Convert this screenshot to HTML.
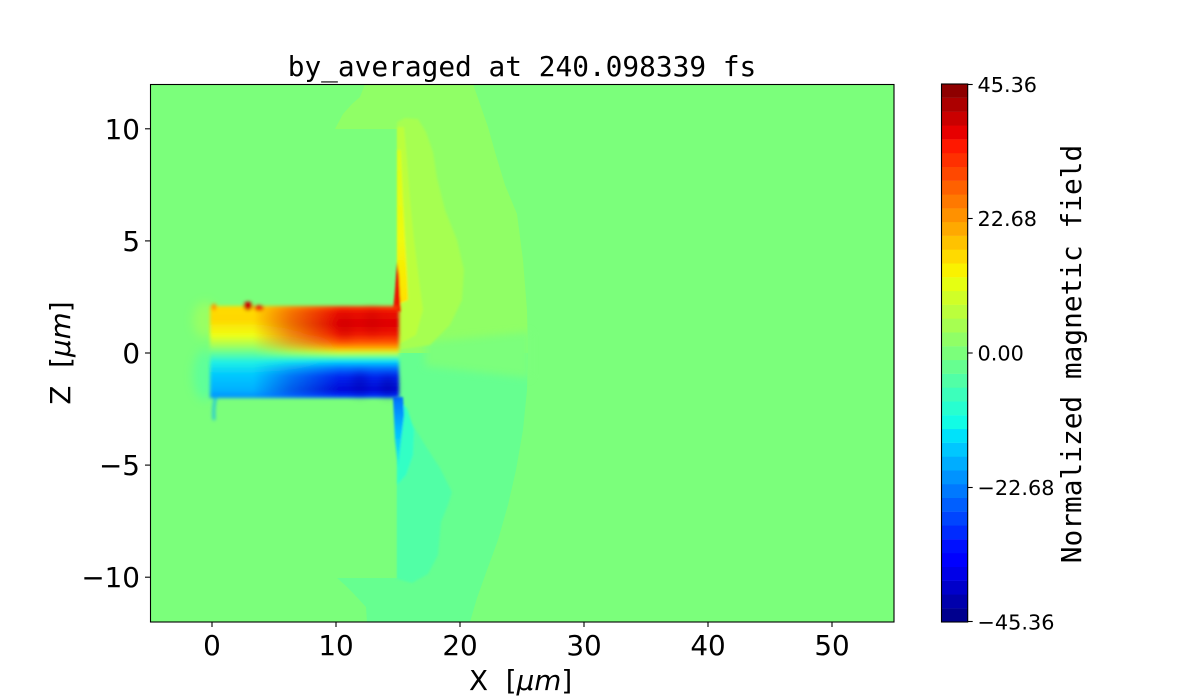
<!DOCTYPE html>
<html>
<head>
<meta charset="utf-8">
<style>
  html,body{margin:0;padding:0;background:#fff;}
  svg{display:block;}
  .tk{font-family:"DejaVu Sans","Liberation Sans",sans-serif;font-size:27.8px;fill:#000;}
  .cb{font-family:"DejaVu Sans","Liberation Sans",sans-serif;font-size:20.8px;fill:#000;}
  .mono{font-family:"DejaVu Sans Mono","Liberation Mono",monospace;font-size:27.8px;fill:#000;white-space:pre;}
  .lab{font-family:"DejaVu Sans","Liberation Sans",sans-serif;font-size:27.8px;fill:#000;white-space:pre;}
</style>
</head>
<body>
<svg width="1200" height="700" viewBox="0 0 1200 700" xmlns="http://www.w3.org/2000/svg">
<defs>
  <clipPath id="clip"><rect x="150" y="84" width="744" height="538"/></clipPath>
  <filter id="b2" x="-20%" y="-20%" width="140%" height="140%"><feGaussianBlur stdDeviation="1.8"/></filter>
  <filter id="b1" x="-20%" y="-20%" width="140%" height="140%"><feGaussianBlur stdDeviation="1"/></filter>
  <filter id="b3" x="-20%" y="-50%" width="140%" height="200%"><feGaussianBlur stdDeviation="4"/></filter>
  <filter id="b5" x="-50%" y="-50%" width="200%" height="200%"><feGaussianBlur stdDeviation="5"/></filter>
  <linearGradient id="gI" gradientUnits="userSpaceOnUse" x1="0" y1="306" x2="0" y2="398">
    <stop offset="0" stop-color="rgb(255,70,0)"/>
    <stop offset="0.065" stop-color="rgb(235,15,0)"/>
    <stop offset="0.2" stop-color="rgb(222,0,0)"/>
    <stop offset="0.31" stop-color="rgb(240,25,0)"/>
    <stop offset="0.4" stop-color="rgb(255,90,0)"/>
    <stop offset="0.46" stop-color="rgb(255,175,0)"/>
    <stop offset="0.51" stop-color="rgb(200,255,50)"/>
    <stop offset="0.56" stop-color="rgb(80,255,170)"/>
    <stop offset="0.605" stop-color="rgb(0,215,255)"/>
    <stop offset="0.67" stop-color="rgb(0,120,255)"/>
    <stop offset="0.76" stop-color="rgb(0,40,240)"/>
    <stop offset="0.915" stop-color="rgb(0,10,215)"/>
    <stop offset="0.98" stop-color="rgb(0,45,255)"/>
    <stop offset="1" stop-color="rgb(0,110,255)"/>
  </linearGradient>
  <linearGradient id="gW" gradientUnits="userSpaceOnUse" x1="0" y1="306" x2="0" y2="398">
    <stop offset="0" stop-color="rgb(255,220,0)"/>
    <stop offset="0.15" stop-color="rgb(255,215,0)"/>
    <stop offset="0.315" stop-color="rgb(240,255,20)"/>
    <stop offset="0.425" stop-color="rgb(170,255,85)"/>
    <stop offset="0.51" stop-color="rgb(100,255,150)"/>
    <stop offset="0.61" stop-color="rgb(30,240,230)"/>
    <stop offset="0.75" stop-color="rgb(0,200,255)"/>
    <stop offset="0.92" stop-color="rgb(0,175,255)"/>
    <stop offset="1" stop-color="rgb(0,140,255)"/>
  </linearGradient>
  <linearGradient id="hG" gradientUnits="userSpaceOnUse" x1="212" y1="0" x2="399" y2="0">
    <stop offset="0" stop-color="#fff"/>
    <stop offset="0.22" stop-color="#fff"/>
    <stop offset="0.42" stop-color="#808080"/>
    <stop offset="0.68" stop-color="#000"/>
    <stop offset="1" stop-color="#000"/>
  </linearGradient>
  <mask id="mW" maskUnits="userSpaceOnUse" x="150" y="84" width="744" height="538">
    <rect x="150" y="84" width="744" height="538" fill="url(#hG)"/>
  </mask>
  <linearGradient id="gSpikeB" gradientUnits="userSpaceOnUse" x1="0" y1="397" x2="0" y2="465">
    <stop offset="0" stop-color="rgb(0,110,255)"/>
    <stop offset="0.5" stop-color="rgb(0,190,255)"/>
    <stop offset="1" stop-color="rgb(30,245,220)"/>
  </linearGradient>
  <linearGradient id="gSpikeY" gradientUnits="userSpaceOnUse" x1="0" y1="150" x2="0" y2="300">
    <stop offset="0" stop-color="rgb(215,255,30)"/>
    <stop offset="0.6" stop-color="rgb(240,250,10)"/>
    <stop offset="1" stop-color="rgb(255,225,0)"/>
  </linearGradient>
</defs>

<!-- ===== heatmap ===== -->
<g clip-path="url(#clip)">
  <rect x="150" y="84" width="744" height="538" fill="rgb(123,255,123)"/>

  <!-- upper band20 region -->
  <polygon fill="rgb(144,255,102)" points="365,84 473,84 480,104 488,127 495,152 505,185 517,214 523,260 527,310 528,353 397,353 397,129 335,129 343,114 352,104 360,97"/>
  <!-- lower band18 region -->
  <polygon fill="rgb(102,255,144)" points="397,353 528,353 527,390 523,430 516,470 508,505 498,540 487,570 477,598 470,622 367,622 366,607 353,593 345,585 337,578 397,578"/>
  <!-- neutral transition around the exit line -->
  <polygon fill="rgb(123,255,123)" points="425,342 530,332 530,378 425,366" filter="url(#b3)"/>

  <g filter="url(#b1)">
    <!-- band 21 upper -->
    <polygon fill="rgb(166,255,81)" points="397,122 405,118 418,119 426,132 433,152 437,178 445,210 457,240 464,270 462,300 450,325 430,345 397,350"/>
    <!-- band 22 strip -->
    <polygon fill="rgb(187,255,60)" points="397,127 404,127 407,160 410,200 414,240 419,280 423,310 416,335 397,345"/>
    <!-- yellow strip next to target -->
    <polygon fill="url(#gSpikeY)" points="397,150 401,150 403,200 405,240 407,275 408,300 397,305"/>
    <!-- band 17 lower -->
    <polygon fill="rgb(81,255,166)" points="397,398 410,420 425,445 440,468 452,492 448,505 441,522 438,555 428,574 412,583 397,579"/>
    <!-- band 15/16 near target -->
    <polygon fill="rgb(50,255,197)" points="397,398 407,408 414,430 413,455 406,475 397,485"/>
    <!-- blue spike -->
    <polygon fill="url(#gSpikeB)" points="393,397 403,397 404,415 401,440 398,468 395,440"/>
    <!-- red spike -->
    <polygon fill="rgb(235,20,0)" points="397,262 399,275 400,295 401,312 393,312 395,290"/>
  </g>

  <!-- faint halos left of channel -->
  <ellipse cx="205" cy="320" rx="12" ry="18" fill="rgb(190,255,70)" opacity="0.45" filter="url(#b5)"/>
  <ellipse cx="205" cy="375" rx="12" ry="25" fill="rgb(60,255,190)" opacity="0.45" filter="url(#b5)"/>

  <!-- channel -->
  <g filter="url(#b2)">
    <rect x="212" y="306" width="187" height="92" fill="url(#gI)"/>
    <rect x="210" y="306" width="189" height="92" fill="url(#gW)" mask="url(#mW)"/>
    <!-- blobs -->
    <circle cx="248" cy="306" r="4.5" fill="rgb(205,0,0)"/>
    <ellipse cx="259" cy="308" rx="5" ry="3" fill="rgb(240,45,0)"/>
    <ellipse cx="214" cy="307" rx="2.5" ry="3.5" fill="rgb(255,150,0)"/>
    <path d="M216,397 Q213,405 214,420" stroke="rgb(0,175,255)" stroke-width="2" fill="none"/>
  </g>
  <!-- soft texture -->
  <g filter="url(#b5)" opacity="0.45">
    <ellipse cx="345" cy="326" rx="7" ry="13" fill="rgb(200,0,0)"/>
    <ellipse cx="372" cy="322" rx="7" ry="12" fill="rgb(200,0,0)"/>
    <ellipse cx="360" cy="384" rx="8" ry="11" fill="rgb(0,0,170)"/>
    <ellipse cx="388" cy="386" rx="7" ry="10" fill="rgb(0,0,150)"/>
  </g>
</g>

<!-- axes frame -->
<rect x="150.5" y="84.5" width="743.5" height="537.5" fill="none" stroke="#000" stroke-width="1.1"/>

<!-- ticks -->
<g stroke="#000" stroke-width="1.1">
  <line x1="145" y1="128.8" x2="150" y2="128.8"/>
  <line x1="145" y1="240.9" x2="150" y2="240.9"/>
  <line x1="145" y1="353" x2="150" y2="353"/>
  <line x1="145" y1="465.1" x2="150" y2="465.1"/>
  <line x1="145" y1="577.2" x2="150" y2="577.2"/>
  <line x1="212" y1="622" x2="212" y2="627"/>
  <line x1="336" y1="622" x2="336" y2="627"/>
  <line x1="460" y1="622" x2="460" y2="627"/>
  <line x1="584" y1="622" x2="584" y2="627"/>
  <line x1="708" y1="622" x2="708" y2="627"/>
  <line x1="832" y1="622" x2="832" y2="627"/>
</g>
<g class="tk" text-anchor="end">
  <text x="140" y="139">10</text>
  <text x="140" y="251">5</text>
  <text x="140" y="363">0</text>
  <text x="140" y="475">−5</text>
  <text x="140" y="587">−10</text>
</g>
<g class="tk" text-anchor="middle">
  <text x="212" y="655">0</text>
  <text x="336" y="655">10</text>
  <text x="460" y="655">20</text>
  <text x="584" y="655">30</text>
  <text x="708" y="655">40</text>
  <text x="832" y="655">50</text>
</g>

<!-- axis labels -->
<text class="lab" x="469" y="690">X  [<tspan font-style="italic">μm</tspan>]</text>
<text class="lab" transform="translate(70,353) rotate(-90)" text-anchor="middle">Z  [<tspan font-style="italic">μm</tspan>]</text>

<!-- title -->
<text class="mono" x="522" y="76" text-anchor="middle">by_averaged at 240.098339 fs</text>

<!-- colorbar -->
<g>
  <rect x="941.5" y="608.2" width="26" height="14" fill="rgb(0,0,142)"/>
  <rect x="941.5" y="594.4" width="26" height="14" fill="rgb(0,0,172)"/>
  <rect x="941.5" y="580.6" width="26" height="14" fill="rgb(0,0,202)"/>
  <rect x="941.5" y="566.8" width="26" height="14" fill="rgb(0,0,232)"/>
  <rect x="941.5" y="553.0" width="26" height="14" fill="rgb(0,0,255)"/>
  <rect x="941.5" y="539.2" width="26" height="14" fill="rgb(0,16,255)"/>
  <rect x="941.5" y="525.4" width="26" height="14" fill="rgb(0,43,255)"/>
  <rect x="941.5" y="511.6" width="26" height="14" fill="rgb(0,69,255)"/>
  <rect x="941.5" y="497.8" width="26" height="14" fill="rgb(0,95,255)"/>
  <rect x="941.5" y="484.0" width="26" height="14" fill="rgb(0,121,255)"/>
  <rect x="941.5" y="470.3" width="26" height="14" fill="rgb(0,147,255)"/>
  <rect x="941.5" y="456.5" width="26" height="14" fill="rgb(0,173,255)"/>
  <rect x="941.5" y="442.7" width="26" height="14" fill="rgb(0,199,255)"/>
  <rect x="941.5" y="428.9" width="26" height="14" fill="rgb(0,226,250)"/>
  <rect x="941.5" y="415.1" width="26" height="14" fill="rgb(18,252,229)"/>
  <rect x="941.5" y="401.3" width="26" height="14" fill="rgb(39,255,208)"/>
  <rect x="941.5" y="387.5" width="26" height="14" fill="rgb(60,255,187)"/>
  <rect x="941.5" y="373.7" width="26" height="14" fill="rgb(81,255,166)"/>
  <rect x="941.5" y="359.9" width="26" height="14" fill="rgb(102,255,144)"/>
  <rect x="941.5" y="346.1" width="26" height="14" fill="rgb(123,255,123)"/>
  <rect x="941.5" y="332.3" width="26" height="14" fill="rgb(144,255,102)"/>
  <rect x="941.5" y="318.5" width="26" height="14" fill="rgb(166,255,81)"/>
  <rect x="941.5" y="304.7" width="26" height="14" fill="rgb(187,255,60)"/>
  <rect x="941.5" y="290.9" width="26" height="14" fill="rgb(208,255,39)"/>
  <rect x="941.5" y="277.1" width="26" height="14" fill="rgb(229,255,18)"/>
  <rect x="941.5" y="263.3" width="26" height="14" fill="rgb(250,242,0)"/>
  <rect x="941.5" y="249.5" width="26" height="14" fill="rgb(255,218,0)"/>
  <rect x="941.5" y="235.7" width="26" height="14" fill="rgb(255,194,0)"/>
  <rect x="941.5" y="221.9" width="26" height="14" fill="rgb(255,169,0)"/>
  <rect x="941.5" y="208.1" width="26" height="14" fill="rgb(255,145,0)"/>
  <rect x="941.5" y="194.4" width="26" height="14" fill="rgb(255,121,0)"/>
  <rect x="941.5" y="180.6" width="26" height="14" fill="rgb(255,97,0)"/>
  <rect x="941.5" y="166.8" width="26" height="14" fill="rgb(255,72,0)"/>
  <rect x="941.5" y="153.0" width="26" height="14" fill="rgb(255,48,0)"/>
  <rect x="941.5" y="139.2" width="26" height="14" fill="rgb(255,24,0)"/>
  <rect x="941.5" y="125.4" width="26" height="14" fill="rgb(231,0,0)"/>
  <rect x="941.5" y="111.6" width="26" height="14" fill="rgb(202,0,0)"/>
  <rect x="941.5" y="97.8" width="26" height="14" fill="rgb(172,0,0)"/>
  <rect x="941.5" y="84.0" width="26" height="13.9" fill="rgb(142,0,0)"/>
  <rect x="941.5" y="84" width="26.2" height="538" fill="none" stroke="#000" stroke-width="1.1"/>
  <g stroke="#000" stroke-width="1.1">
    <line x1="967.7" y1="84.5" x2="972.7" y2="84.5"/>
    <line x1="967.7" y1="218.5" x2="972.7" y2="218.5"/>
    <line x1="967.7" y1="353" x2="972.7" y2="353"/>
    <line x1="967.7" y1="487.5" x2="972.7" y2="487.5"/>
    <line x1="967.7" y1="621.5" x2="972.7" y2="621.5"/>
  </g>
  <g class="cb">
    <text x="977.5" y="91.8">45.36</text>
    <text x="977.5" y="226.1">22.68</text>
    <text x="977.5" y="360.6">0.00</text>
    <text x="977.5" y="495.1">−22.68</text>
    <text x="977.5" y="629.6">−45.36</text>
  </g>
  <text class="mono" transform="translate(1081,354) rotate(-90)" text-anchor="middle">Normalized magnetic field</text>
</g>
</svg>
</body>
</html>
